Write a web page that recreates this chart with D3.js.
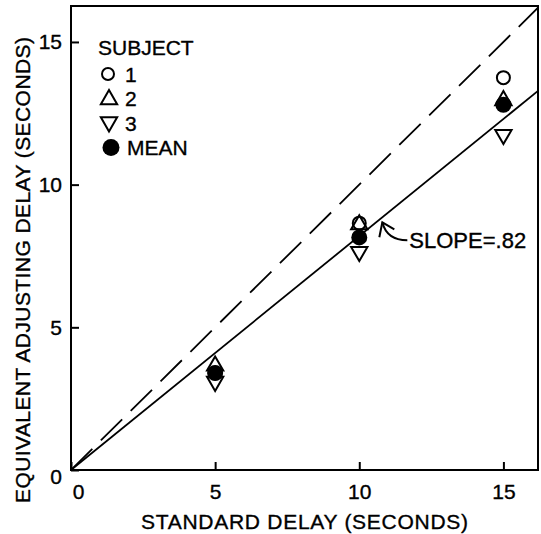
<!DOCTYPE html>
<head>
    <meta charset="utf-8">
    <title>Equivalent adjusting delay</title>
    <style>
        body { margin: 0; background: #fff; }
        text { font-family: 'Liberation Sans', Arial, sans-serif; fill: #000; stroke: #000; stroke-width: 0.35px; }
    </style>
</head>
<body>

<svg width="541" height="534"></svg>

<script src="https://d3js.org/d3.v7.min.js"></script>

<script>

// standard delay (s) and equivalent adjusting delay
var standard = [5, 10, 15];
var subject1 = [3.4, 8.65, 13.75];
var subject2 = [3.65, 8.6, 12.95];
var subject3 = [3.1, 7.65, 11.75];
var mean = [3.4, 8.15, 12.8];

var xTicks = [0, 5, 10, 15];
var yTicks = [0, 5, 10, 15];
var slope = 0.82;

var svg = d3.select('svg'),
    margin = {top: 6, right: 3, bottom: 64, left: 71},
    width = +svg.attr('width') - margin.left - margin.right,
    height = +svg.attr('height') - margin.top - margin.bottom,
    g = svg.append('g')
        .attr('transform', `translate(${margin.left},${margin.top})`);

var x = d3.scaleLinear().domain([0, 16.2]).range([0, width]);
var y = d3.scaleLinear().domain([0, 16.26]).range([height, 0]);

// frame
g.append('rect')
    .attr('width', width)
    .attr('height', height)
    .attr('fill', 'none')
    .attr('stroke', '#000')
    .attr('stroke-width', 2);

// ticks point inward
var xAxis = g.append('g')
    .attr('transform', `translate(0,${height})`)
    .call(d3.axisBottom(x).tickValues(xTicks).tickSize(-8).tickPadding(14));
var yAxis = g.append('g')
    .call(d3.axisLeft(y).tickValues(yTicks).tickSize(-8).tickPadding(9));

[xAxis, yAxis].forEach(a => {
    a.select('.domain').remove();
    a.selectAll('line').attr('stroke', '#000').attr('stroke-width', 2);
    a.selectAll('text').attr('font-size', 21).attr('fill', '#000');
});
// the zeros sit off the corner
xAxis.selectAll('.tick text').filter(d => d === 0).attr('dx', 7);
yAxis.selectAll('.tick text').filter(d => d === 0).attr('dy', '0.65em');

// reference lines
var clip = g.append('clipPath').attr('id', 'clip')
    .append('rect').attr('width', width).attr('height', height);

var line = d3.line().x(d => x(d[0])).y(d => y(d[1]));

g.append('path')
    .attr('clip-path', 'url(#clip)')
    .attr('d', line([[0, 0], [16.2, 16.2]]))
    .attr('fill', 'none')
    .attr('stroke', '#000')
    .attr('stroke-width', 1.8)
    .attr('stroke-dasharray', '30,12');

g.append('path')
    .attr('clip-path', 'url(#clip)')
    .attr('d', line([[0, 0], [16.2, 16.2 * slope]]))
    .attr('fill', 'none')
    .attr('stroke', '#000')
    .attr('stroke-width', 1.8);

// markers
var triUp = d3.symbol().type(d3.symbolTriangle).size(115);

function drawOpen(vals, kind) {
    var s = g.selectAll(null)
        .data(standard.map((d, i) => [d, vals[i]]))
        .enter();
    var m;
    if (kind === 'circle') {
        m = s.append('circle').attr('r', 6.5)
            .attr('cx', d => x(d[0])).attr('cy', d => y(d[1]));
    } else {
        m = s.append('path')
            .attr('d', triUp())
            .attr('transform', d => `translate(${x(d[0])},${y(d[1])})` + (kind === 'down' ? ' rotate(180)' : ''));
    }
    m.attr('fill', 'none').attr('stroke', '#000').attr('stroke-width', 2);
}

drawOpen(subject1, 'circle');
drawOpen(subject2, 'up');
drawOpen(subject3, 'down');

g.selectAll('.mean')
    .data(standard.map((d, i) => [d, mean[i]]))
    .enter().append('circle')
        .attr('class', 'mean')
        .attr('r', 8)
        .attr('cx', d => x(d[0]))
        .attr('cy', d => y(d[1]))
        .attr('fill', '#000');

// legend
var legendItems = [
    {kind: 'circle', label: '1'},
    {kind: 'up', label: '2'},
    {kind: 'down', label: '3'},
    {kind: 'mean', label: 'MEAN'}
];

var legend = svg.append('g').attr('transform', 'translate(98,0)');
legend.append('text')
    .attr('x', 0).attr('y', 55)
    .attr('font-size', 21)
    .text('SUBJECT');

var item = legend.selectAll('.item')
    .data(legendItems)
    .enter().append('g')
        .attr('class', 'item')
        .attr('transform', (d, i) => `translate(0,${74 + i * 24.5})`);

item.each(function(d) {
    var it = d3.select(this);
    if (d.kind === 'circle') {
        it.append('circle').attr('cx', 10).attr('r', 6)
            .attr('fill', 'none').attr('stroke', '#000').attr('stroke-width', 2);
    } else if (d.kind === 'mean') {
        it.append('circle').attr('cx', 13).attr('r', 8.5).attr('fill', '#000');
    } else {
        it.append('path').attr('d', triUp())
            .attr('transform', 'translate(11,' + (d.kind === 'up' ? 1 : -1) + ')' + (d.kind === 'down' ? ' rotate(180)' : ''))
            .attr('fill', 'none').attr('stroke', '#000').attr('stroke-width', 2);
    }
});

item.append('text')
    .attr('x', d => d.kind === 'mean' ? 29 : 27)
    .attr('dy', '0.36em')
    .attr('font-size', 21)
    .text(d => d.label);

// slope annotation
var ax = x(10.8), ay = y(10.8 * slope);
g.append('path')
    .attr('d', `M${ax + 25},${ay + 23} C${ax + 12},${ay + 23} ${ax + 3},${ay + 17} ${ax},${ay + 5}`)
    .attr('fill', 'none').attr('stroke', '#000').attr('stroke-width', 2);
g.append('path')
    .attr('d', `M${ax - 3},${ay + 20} L${ax},${ay + 5} L${ax + 12},${ay + 12}`)
    .attr('fill', 'none').attr('stroke', '#000').attr('stroke-width', 2);
g.append('text')
    .attr('x', ax + 27)
    .attr('y', ay + 23)
    .attr('dy', '0.36em')
    .attr('font-size', 22)
    .text('SLOPE=.82');

// axis titles
svg.append('text')
    .attr('x', margin.left + x(8.1))
    .attr('y', 529)
    .attr('text-anchor', 'middle')
    .attr('font-size', 21)
    .attr('textLength', 327)
    .attr('lengthAdjust', 'spacing')
    .text('STANDARD DELAY (SECONDS)');

svg.append('text')
    .attr('transform', 'translate(30,270) rotate(-90)')
    .attr('text-anchor', 'middle')
    .attr('font-size', 21)
    .attr('textLength', 466)
    .attr('lengthAdjust', 'spacing')
    .text('EQUIVALENT ADJUSTING DELAY (SECONDS)');

</script>

</body>
